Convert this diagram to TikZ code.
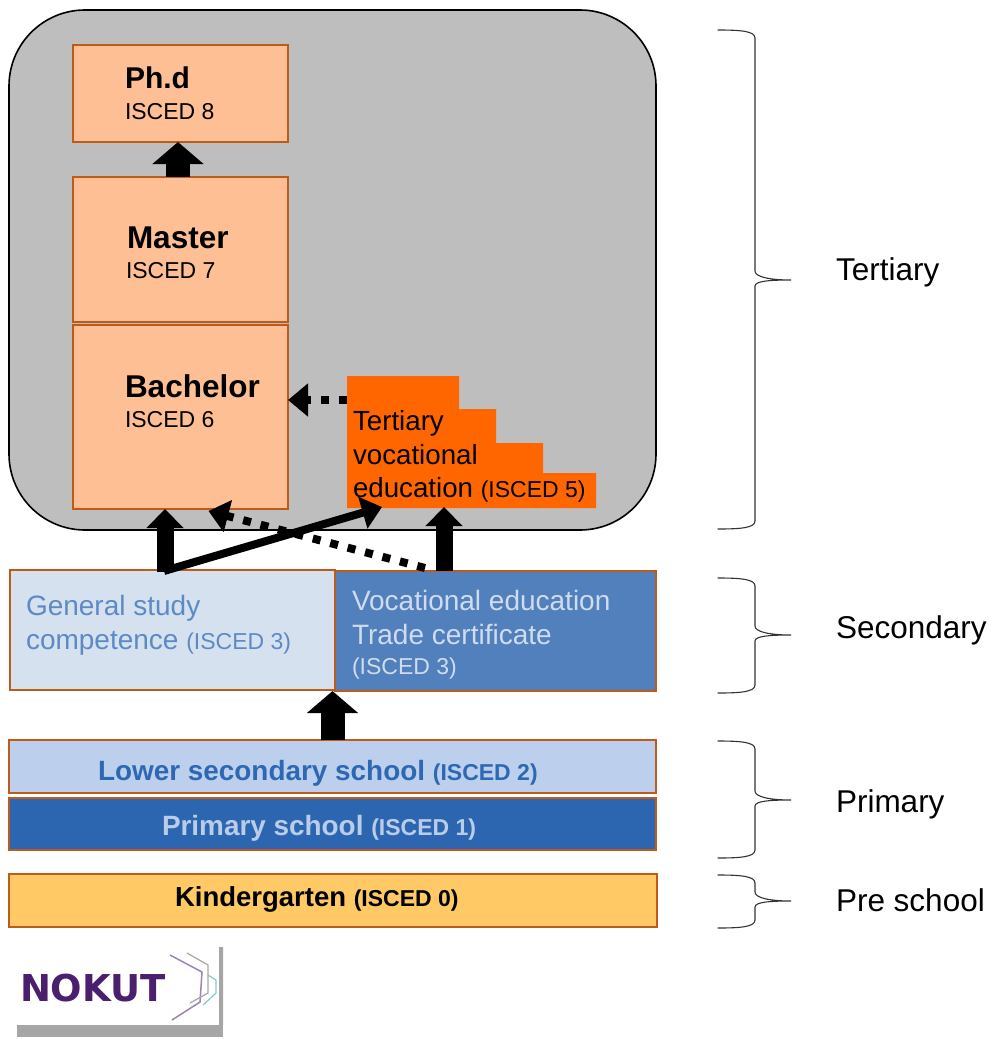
\documentclass[tikz,border=0pt]{standalone}
\usepackage{fontspec}
\setmainfont{Liberation Sans}
\newfontfamily\logofont{DejaVu Sans}
\usetikzlibrary{arrows.meta}
\definecolor{peach}{HTML}{FFBF94}
\definecolor{edgeo}{HTML}{BE5A1A}
\definecolor{greybg}{HTML}{BEBEBE}
\definecolor{orangeT}{HTML}{FF6600}
\definecolor{genfill}{HTML}{D6E1F0}
\definecolor{genink}{HTML}{5C8AC4}
\definecolor{vocfill}{HTML}{5180BD}
\definecolor{vocink}{HTML}{CFDCEE}
\definecolor{lowfill}{HTML}{BCD0ED}
\definecolor{lowink}{HTML}{2E68B2}
\definecolor{prifill}{HTML}{2D66B0}
\definecolor{priink}{HTML}{B9CDE9}
\definecolor{kinfill}{HTML}{FFCA66}
\definecolor{nokut}{HTML}{4A1F6E}
\newcommand{\fs}[1]{\fontsize{#1}{#1}\selectfont}
\tikzset{
  x=1pt,y=-1pt,
  boxn/.style={draw=edgeo,line width=1.5pt,inner sep=0pt,outer sep=0pt},
  txt/.style={anchor=base west,inner sep=0pt,outer sep=0pt},
  blockA/.style={line width=17pt,-{Triangle[length=19pt,width=36pt]}},
  blockB/.style={line width=24pt,-{Triangle[length=22pt,width=50pt]}},
  slim/.style={line width=8pt,-{Triangle[length=20pt,width=32pt]}},
  dots/.style={line width=8pt,dash pattern=on 8pt off 10pt,-{Triangle[length=20pt,width=32pt]}},
  brace/.style={draw=black!80,line width=1.1pt,line cap=round},
}
\newcommand{\bracket}[4]{% top, mid, bottom, name
  \coordinate (#4a) at (718,#1);
  \coordinate (#4t) at (791,#2);
  \coordinate (#4b) at (718,#3);
  \draw[brace] (#4a) .. controls (740,#1) and (755,#1+1) .. (755,#1+8)
    -- (755,#2-9) .. controls (755,#2-3) and (770,#2) .. (#4t)
    .. controls (770,#2) and (755,#2+1) .. (755,#2+6)
    -- (755,#3-8) .. controls (755,#3-1) and (740,#3) .. (#4b);
}
\begin{document}
\begin{tikzpicture}
\useasboundingbox (0,0) rectangle (991,1039);
% background panel
\node[draw=black,line width=1.6pt,fill=greybg,rounded corners=76pt,minimum width=647pt,minimum height=520pt,inner sep=0pt,outer sep=0pt] (panel) at (332.5,270) {};
% tertiary boxes
\node[boxn,fill=peach,minimum width=215pt,minimum height=97pt] (phd) at (180.5,93.5) {};
\node[boxn,fill=peach,minimum width=215pt,minimum height=145pt] (master) at (180.5,249.5) {};
\node[boxn,fill=peach,minimum width=215pt,minimum height=184pt] (bach) at (180.5,417) {};
\node[txt,font=\bfseries\fs{30}] (phdT) at (125,88) {Ph.d};
\node[txt,font=\fs{23}] (phdS) at (125,119) {ISCED 8};
\node[txt,font=\bfseries\fs{31.5}] (masT) at (127,248) {Master};
\node[txt,font=\fs{23}] (masS) at (126,278) {ISCED 7};
\node[txt,font=\bfseries\fs{31.5}] (baT) at (125,397) {Bachelor};
\node[txt,font=\fs{23}] (baS) at (125,427) {ISCED 6};
% stair
\fill[orangeT] (347,376) -- (459,376) -- (459,409) -- (496,409) -- (496,443) -- (543,443) -- (543,473) -- (596,473) -- (596,508) -- (347,508) -- cycle;
\coordinate (stairL) at (347,400);
\coordinate (stairB) at (444,507);
\coordinate (stairD) at (382,507);
\node[txt,font=\fs{27.7}] (t1) at (353,430) {Tertiary};
\node[txt,font=\fs{27.7}] (t2) at (353,464) {vocational};
\node[txt,font=\fs{27.7}] (t3) at (353,497) {education \fs{23}(ISCED 5)};
% secondary
\node[boxn,fill=genfill,minimum width=325pt,minimum height=120pt] (gen) at (172.5,630) {};
\node[boxn,fill=vocfill,minimum width=321pt,minimum height=120pt] (voc) at (495.5,631) {};
\node[txt,font=\fs{28},text=genink] (g1) at (26,615) {General study};
\node[txt,font=\fs{28},text=genink] (g2) at (26,649) {competence \fs{23}(ISCED 3)};
\node[txt,font=\fs{28},text=vocink] (v1) at (352,610) {Vocational education};
\node[txt,font=\fs{28},text=vocink] (v2) at (352,644) {Trade certificate};
\node[txt,font=\fs{23},text=vocink] (v3) at (352,674) {(ISCED 3)};
% bars
\node[boxn,fill=lowfill,minimum width=647pt,minimum height=53pt] (low) at (332.5,766.5) {};
\node[boxn,fill=prifill,minimum width=647pt,minimum height=52pt] (pri) at (332.5,824) {};
\node[boxn,fill=kinfill,minimum width=648pt,minimum height=53pt] (kin) at (333,900.5) {};
\node[txt,font=\bfseries\fs{27.9},text=lowink] (lowT) at (98,780) {Lower secondary school \fs{23}(ISCED 2)};
\node[txt,font=\bfseries\fs{27.9},text=priink] (priT) at (162,835) {Primary school \fs{23}(ISCED 1)};
\node[txt,font=\bfseries\fs{27.5}] (kinT) at (175,906) {Kindergarten \fs{23}(ISCED 0)};
% arrows
\draw[blockB] ([xshift=-2.5pt]master.north) -- ([xshift=-2.5pt]phd.south);
\draw[blockB] (low.north |- low.north) -- (low.north |- voc.south);
\draw[blockA] (gen.north -| bach.south west) ++(92,2) coordinate (genU) -- (genU |- bach.south);
\draw[blockA] (stairB |- voc.north) -- (stairB);
\draw[slim] ([xshift=-1pt,yshift=1pt]genU) -- (stairD);
\draw[dots] (425,568) coordinate (vocD) -- ([xshift=28pt,yshift=-2pt]bach.south);
\draw[dots] (stairL) -- (bach.east |- stairL);
% brackets
\bracket{30}{280}{529}{bt}
\bracket{578}{635}{693}{bs}
\bracket{741}{800}{858}{bp}
\bracket{875}{901}{928}{bk}
\node[txt,font=\fs{31.5}] (lT) at (836,280) {Tertiary};
\node[txt,font=\fs{31.5}] (lS) at (836,638) {Secondary};
\node[txt,font=\fs{31.5}] (lP) at (836,812) {Primary};
\node[txt,font=\fs{31.5}] (lK) at (836,911) {Pre school};
% logo
\fill[black!35] (17,1025) -- (223,1025) -- (223,947) -- (219,947) -- (219,1025) -- cycle;
\fill[black!35] (17,1025) rectangle (223,1037);
\draw[line width=1.5pt,nokut!55!white] (170,955) -- (202,972) -- (200,1002) -- (172,1020);
\draw[line width=1.2pt,black!35] (187,953) -- (208,965) -- (208,993) -- (190,1003);
\draw[line width=1.2pt,teal!45!white] (208,975) -- (216,980) -- (216,993) -- (203,1005);
\node[txt,font=\logofont\bfseries\fs{37},text=nokut] (logo) at (20,1001) {NOKUT};
\end{tikzpicture}
\end{document}
